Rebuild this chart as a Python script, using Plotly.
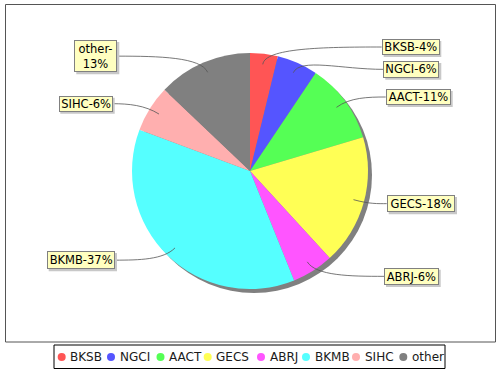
import math
import plotly.graph_objects as go

# ---- data ----
categories = ["BKSB", "NGCI", "AACT", "GECS", "ABRJ", "BKMB", "SIHC", "other"]
values = [3.8, 5.6, 11.0, 17.8, 5.7, 36.8, 6.4, 12.9]
colors = ["#FF5555", "#5555FF", "#55FF55", "#FFFF55", "#FF55FF", "#55FFFF", "#FFAFAF", "#808080"]

# ---- layout (pixel geometry) ----
W, H = 500, 370
CX, CY, R = 250, 171, 118
FONT = "DejaVu Sans"
# label boxes: x0, y0, x1, y1 (pixels), wrap flag
label_boxes = [
    (381.7, 39.0, 439.3, 55.0, False),
    (383.3, 61.0, 439.3, 77.7, False),
    (385.7, 89.0, 450.7, 105.0, False),
    (386.7, 195.0, 455.0, 212.3, False),
    (384.0, 267.7, 438.7, 285.0, False),
    (46.7, 251.0, 115.0, 269.3, False),
    (58.3, 95.7, 112.7, 111.7, False),
    (74.3, 40.0, 117.3, 72.3, True),
]
legend_circle_x = [61.7, 111.0, 160.5, 207.7, 261.0, 306.0, 356.0, 403.3]
legend_box = (54, 345, 445, 368.5)
legend_y = 357


def px(x):
    return x / W


def py(y):
    return 1 - y / H


fig = go.Figure(
    go.Pie(
        labels=categories,
        values=values,
        sort=False,
        direction="clockwise",
        rotation=0,
        marker=dict(colors=colors, line=dict(width=0)),
        textinfo="none",
        hoverinfo="label+percent",
        showlegend=False,
        domain=dict(x=[px(CX - R), px(CX + R)], y=[py(CY + R), py(CY - R)]),
    )
)

shapes = []
annotations = []

# plot border
shapes.append(dict(type="rect", xref="paper", yref="paper",
                   x0=px(5.5), x1=px(495.5), y0=py(342), y1=py(4.5),
                   line=dict(color="#555555", width=1), fillcolor="rgba(0,0,0,0)", layer="below"))
# pie shadow
shapes.append(dict(type="circle", xref="paper", yref="paper",
                   x0=px(CX - R + 4), x1=px(CX + R + 4), y0=py(CY + R + 4), y1=py(CY - R + 4),
                   line=dict(width=0), fillcolor="#808080", layer="below"))

total = sum(values)
cum = 0.0
for name, v, box in zip(categories, values, label_boxes):
    mid = (cum + v / 2) / total * 2 * math.pi
    cum += v
    ax = CX + 0.91 * R * math.sin(mid)
    ay = CY - 0.91 * R * math.cos(mid)
    ox = CX + 1.05 * R * math.sin(mid)
    oy = CY - 1.05 * R * math.cos(mid)
    x0, y0, x1, y1, wrap = box
    bcy = (y0 + y1) / 2
    ex = x0 if (x0 + x1) / 2 > CX else x1
    mx = (ox + ex) / 2
    path = (f"M {px(ax)} {py(ay)} C {px(ox)} {py(oy)}, {px(mx)} {py(bcy)}, "
            f"{px(ex)} {py(bcy)}")
    shapes.append(dict(type="path", xref="paper", yref="paper", path=path,
                       line=dict(color="#555555", width=0.8), layer="above"))
    # box shadow
    shapes.append(dict(type="rect", xref="paper", yref="paper",
                       x0=px(x0 + 2), x1=px(x1 + 2), y0=py(y1 + 2), y1=py(y0 + 2),
                       line=dict(width=0), fillcolor="#C8C8C8", layer="above"))
    pct = round(v / total * 100)
    text = f"{name}-<br>{pct}%" if wrap else f"{name}-{pct}%"
    annotations.append(dict(
        xref="paper", yref="paper", x=px((x0 + x1) / 2), y=py((y0 + y1) / 2),
        xanchor="center", yanchor="middle", text=text, showarrow=False,
        width=x1 - x0 - 2, height=y1 - y0 - 2, align="center", valign="middle",
        bgcolor="#FFFFC0", bordercolor="#808080", borderwidth=1, borderpad=0,
        font=dict(family=FONT, size=11.5, color="#000000"),
    ))

# legend
lx0, ly0, lx1, ly1 = legend_box
shapes.append(dict(type="rect", xref="paper", yref="paper",
                   x0=px(lx0), x1=px(lx1), y0=py(ly1), y1=py(ly0),
                   line=dict(color="#000000", width=1), fillcolor="#FFFFFF", layer="above"))
for name, col, cx in zip(categories, colors, legend_circle_x):
    shapes.append(dict(type="circle", xref="paper", yref="paper",
                       x0=px(cx - 4), x1=px(cx + 4), y0=py(legend_y + 4), y1=py(legend_y - 4),
                       line=dict(width=0), fillcolor=col, layer="above"))
    annotations.append(dict(
        xref="paper", yref="paper", x=px(cx + 6.5), y=py(legend_y),
        xanchor="left", yanchor="middle", text=name, showarrow=False,
        font=dict(family=FONT, size=12, color="#1a1a1a"),
    ))

fig.update_layout(
    width=W, height=H,
    margin=dict(l=0, r=0, t=0, b=0),
    paper_bgcolor="#FFFFFF",
    plot_bgcolor="#FFFFFF",
    shapes=shapes,
    annotations=annotations,
    showlegend=False,
)

fig.write_html("out.html", config={"displayModeBar": False},
               post_script="document.body.style.margin='0';")
